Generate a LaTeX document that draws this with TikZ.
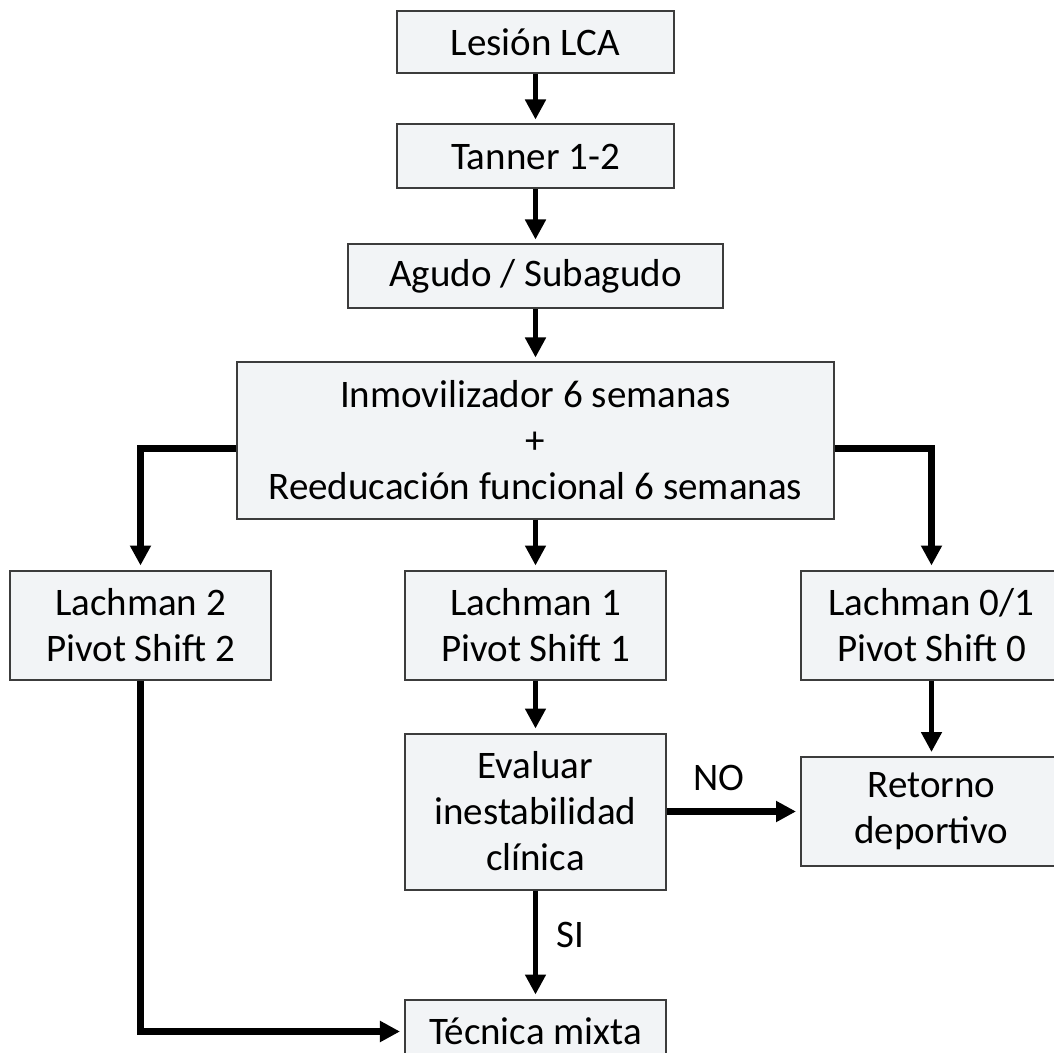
\documentclass[tikz,border=0pt]{standalone}
\usepackage{fontspec}
\setmainfont{Carlito}
\usetikzlibrary{
  arrows.meta,
  positioning,
}
\definecolor{boxfill}{RGB}{242,244,246}
\definecolor{boxline}{RGB}{60,60,60}
\tikzset{
  >={Triangle[width=10pt,length=10pt]},
}

\begin{document}
\begin{tikzpicture}[
        every node/.style={draw=boxline, fill=boxfill, line width=1pt, align=center, inner sep=0pt},
        lbl/.style={draw=none, fill=none},
        arr/.style={->, line width=2.4pt, shorten >=2pt},
        thickarr/.style={->, line width=3.3pt, shorten >=2pt},
      ]
      \fontsize{19.5}{23}\selectfont
      \useasboundingbox (-267.75pt,21.25pt) rectangle (259.25pt,-505.25pt);
      \clip (-267.75pt,21.25pt) rectangle (259.25pt,-505.25pt);
      \node (lesion) [minimum width=138pt, minimum height=31pt] {Lesión LCA};
      \node (tanner) [below = 24.5pt of lesion, minimum width=138pt, minimum height=32pt] {Tanner 1-2};
      \node (agudo) [below = 27pt of tanner, minimum width=187.5pt, minimum height=32pt] {Agudo / Subagudo};
      \node (inmov) [below = 26pt of agudo, minimum width=298.5pt, minimum height=78pt] {
        Inmovilizador 6 semanas \\
        + \\
        Reeducación funcional 6 semanas
      };
      \node (lach1) [below = 25pt of inmov, minimum width=130.5pt, minimum height=54.5pt] {
        Lachman 1 \\
        Pivot Shift 1
      };
      \node (lach2) [left = 66pt of lach1, minimum width=130.5pt, minimum height=54.5pt] {
        Lachman 2 \\
        Pivot Shift 2
      };
      \node (lach0) [right = 66.5pt of lach1, minimum width=130.5pt, minimum height=54.5pt] {
        Lachman 0/1 \\
        Pivot Shift 0
      };
      \node (eval) [below = 26pt of lach1, minimum width=130.5pt, minimum height=78pt] {
        Evaluar \\
        inestabilidad \\
        clínica
      };
      \node (retorno) [right = 66.5pt of eval, minimum width=130.5pt, minimum height=54.5pt] {
        Retorno \\
        deportivo
      };
      \node (tecnica) [below = 54pt of eval, minimum width=130.5pt, minimum height=32pt] {Técnica mixta};

      \draw[arr] (lesion) -- (tanner);
      \draw[arr] (tanner) -- (agudo);
      \draw[arr] (agudo) -- (inmov);
      \draw[arr] (inmov) -- (lach1);
      \draw[arr] (lach1) -- (eval);
      \draw[arr] (lach0) -- (retorno);
      \draw[arr] (eval) -- node[lbl, right=10pt, yshift=5pt] {SI} (tecnica);
      \draw[thickarr] ([yshift=-4pt]inmov.west) -| (lach2);
      \draw[thickarr] ([yshift=-4pt]inmov.east) -| (lach0);
      \draw[thickarr] (eval) -- node[lbl, above=10pt, xshift=-7.5pt] {NO} (retorno);
      \draw[thickarr] (lach2) |- (tecnica);
    \end{tikzpicture}
\end{document}
